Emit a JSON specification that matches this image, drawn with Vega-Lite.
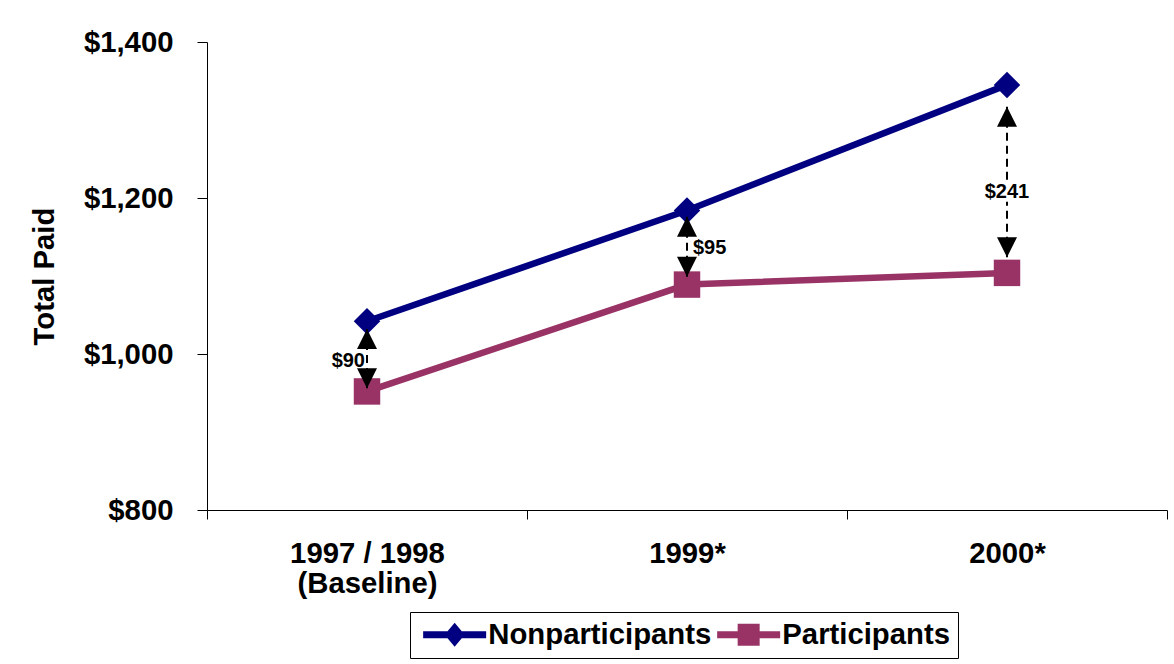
{
  "$schema": "https://vega.github.io/schema/vega-lite/v6.json",
  "width": 960,
  "height": 468,
  "autosize": {"type": "none"},
  "padding": {"left": 207, "top": 42, "right": 7, "bottom": 154},
  "background": "white",
  "config": {
    "view": {"stroke": null},
    "font": "Liberation Sans",
    "axis": {
      "labelFont": "Liberation Sans", "labelFontWeight": "bold", "labelFontSize": 29.3, "labelColor": "black",
      "titleFont": "Liberation Sans", "titleFontWeight": "bold", "titleFontSize": 29.3, "titleColor": "black",
      "domainColor": "black", "tickColor": "black", "grid": false, "domainWidth": 1, "tickWidth": 1
    },
    "legend": {
      "orient": "none", "legendX": 203, "legendY": 570, "direction": "horizontal",
      "strokeColor": "black", "fillColor": "white", "padding": 8,
      "labelFont": "Liberation Sans", "labelFontSize": 29.3, "labelFontWeight": "bold", "labelColor": "black",
      "labelLimit": 400, "symbolSize": 400, "symbolOffset": 22, "labelOffset": 19, "columnPadding": -4,
      "symbolStrokeWidth": 0
    }
  },
  "datasets": {
    "lines": [
      {"period": "1997 / 1998", "group": "Nonparticipants", "value": 1042},
      {"period": "1999*", "group": "Nonparticipants", "value": 1184},
      {"period": "2000*", "group": "Nonparticipants", "value": 1345},
      {"period": "1997 / 1998", "group": "Participants", "value": 952},
      {"period": "1999*", "group": "Participants", "value": 1089},
      {"period": "2000*", "group": "Participants", "value": 1104}
    ],
    "arrows": [
      {"period": "1997 / 1998", "top": 1032, "bottom": 956, "label": "$90", "labelValue": 991},
      {"period": "1999*", "top": 1176, "bottom": 1099, "label": "$95", "labelValue": 1136},
      {"period": "2000*", "top": 1317, "bottom": 1124, "label": "$241", "labelValue": 1208}
    ]
  },
  "encoding": {
    "x": {
      "field": "period", "type": "nominal", "sort": null,
      "scale": {"type": "band", "paddingInner": 0, "paddingOuter": 0, "domain": ["1997 / 1998", "1999*", "2000*"]},
      "axis": {
        "title": null, "labelAngle": 0, "tickBand": "extent", "tickSize": 9, "labelPadding": 20,
        "labelLineHeight": 30,
        "labelExpr": "datum.value == '1997 / 1998' ? ['1997 / 1998', '(Baseline)'] : datum.value"
      }
    }
  },
  "layer": [
    {
      "data": {"name": "lines"},
      "mark": {"type": "line", "strokeWidth": 6.5},
      "encoding": {
        "y": {
          "field": "value", "type": "quantitative",
          "scale": {"domain": [800, 1400], "nice": false, "zero": false},
          "axis": {"title": "Total Paid", "values": [800, 1000, 1200, 1400], "format": "$,.0f", "tickSize": 10, "labelPadding": 24, "titlePadding": 24}
        },
        "color": {
          "field": "group", "type": "nominal",
          "scale": {"domain": ["Nonparticipants", "Participants"], "range": ["#000080", "#993366"]},
          "legend": {"title": null}
        }
      }
    },
    {
      "data": {"name": "lines"},
      "transform": [{"filter": "false"}],
      "mark": {"type": "point", "filled": true, "opacity": 1, "size": 400},
      "encoding": {
        "y": {"field": "value", "type": "quantitative"},
        "color": {"field": "group", "type": "nominal", "legend": {"title": null}},
        "shape": {
          "field": "group", "type": "nominal",
          "scale": {
            "domain": ["Nonparticipants", "Participants"],
            "range": [
              "M-3.15,-0.35L-0.71,-0.35L0,-1.2L0.71,-0.35L3.15,-0.35L3.15,0.35L0.71,0.35L0,1.2L-0.71,0.35L-3.15,0.35Z",
              "M-3.15,-0.35L-1.1,-0.35L-1.1,-1.1L1.1,-1.1L1.1,-0.35L3.15,-0.35L3.15,0.35L1.1,0.35L1.1,1.1L-1.1,1.1L-1.1,0.35L-3.15,0.35Z"
            ]
          },
          "legend": {"title": null}
        }
      }
    },
    {
      "data": {"name": "lines"},
      "transform": [{"filter": "datum.group == 'Nonparticipants'"}],
      "mark": {"type": "point", "filled": true, "opacity": 1, "size": 700, "shape": "diamond", "color": "#000080"},
      "encoding": {
        "y": {"field": "value", "type": "quantitative"}
      }
    },
    {
      "data": {"name": "lines"},
      "transform": [{"filter": "datum.group == 'Participants'"}],
      "mark": {"type": "point", "filled": true, "opacity": 1, "size": 700, "shape": "square", "color": "#993366"},
      "encoding": {
        "y": {"field": "value", "type": "quantitative"}
      }
    },
    {
      "data": {"name": "arrows"},
      "mark": {"type": "rule", "color": "black", "strokeWidth": 2, "strokeDash": [8, 5]},
      "encoding": {
        "y": {"field": "top", "type": "quantitative"},
        "y2": {"field": "bottom"}
      }
    },
    {
      "data": {"name": "arrows"},
      "mark": {"type": "point", "filled": true, "color": "black", "opacity": 1, "size": 400, "shape": "M0,0L1,2L-1,2Z"},
      "encoding": {
        "y": {"field": "top", "type": "quantitative"}
      }
    },
    {
      "data": {"name": "arrows"},
      "mark": {"type": "point", "filled": true, "color": "black", "opacity": 1, "size": 400, "shape": "M0,0L1,-2L-1,-2Z"},
      "encoding": {
        "y": {"field": "bottom", "type": "quantitative"}
      }
    },
    {
      "data": {"name": "arrows"},
      "transform": [{"filter": "datum.label == '$241'"}],
      "mark": {"type": "point", "filled": true, "color": "white", "opacity": 1, "size": 400, "shape": "M-2.4,-1L2.4,-1L2.4,1L-2.4,1Z"},
      "encoding": {
        "y": {"field": "labelValue", "type": "quantitative"}
      }
    },
    {
      "data": {"name": "arrows"},
      "transform": [{"filter": "datum.label == '$90'"}],
      "mark": {"type": "text", "font": "Liberation Sans", "fontWeight": "bold", "fontSize": 20, "align": "right", "baseline": "middle", "dx": -2, "color": "black"},
      "encoding": {
        "y": {"field": "labelValue", "type": "quantitative"},
        "text": {"field": "label"}
      }
    },
    {
      "data": {"name": "arrows"},
      "transform": [{"filter": "datum.label == '$95'"}],
      "mark": {"type": "text", "font": "Liberation Sans", "fontWeight": "bold", "fontSize": 20, "align": "left", "baseline": "middle", "dx": 6, "color": "black"},
      "encoding": {
        "y": {"field": "labelValue", "type": "quantitative"},
        "text": {"field": "label"}
      }
    },
    {
      "data": {"name": "arrows"},
      "transform": [{"filter": "datum.label == '$241'"}],
      "mark": {"type": "text", "font": "Liberation Sans", "fontWeight": "bold", "fontSize": 20, "align": "center", "baseline": "middle", "color": "black"},
      "encoding": {
        "y": {"field": "labelValue", "type": "quantitative"},
        "text": {"field": "label"}
      }
    }
  ]
}
